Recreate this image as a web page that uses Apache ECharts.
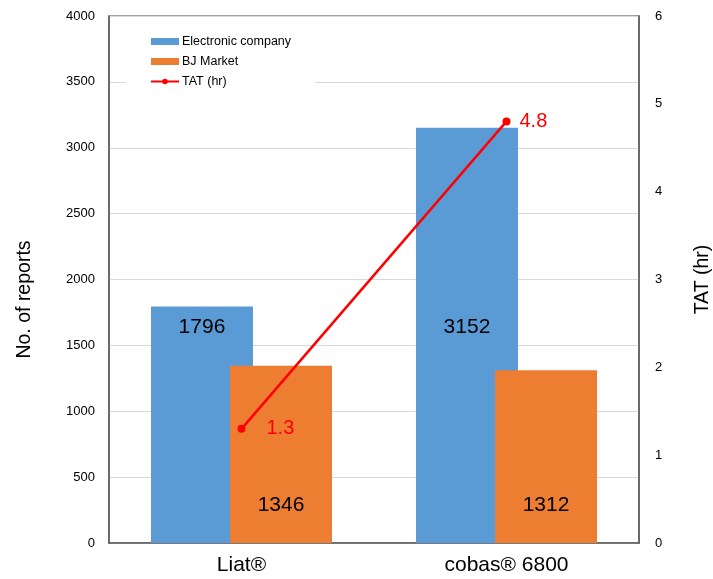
<!DOCTYPE html>
<html lang="en">
<head>
	<meta charset="UTF-8">
	<title>Reports and TAT</title>
	<script src="https://cdn.jsdelivr.net/npm/echarts@6/dist/echarts.min.js"></script>
	<style>
		html,body{margin:0;padding:0;background:#fff;}
		#chart{width:713px;height:579px;}
	</style>
</head>
<body>
<div id="chart"></div>
<script>
	// data
	var categories = ['Liat®', 'cobas® 6800'];
	var electronic = [1796, 3152];
	var bjMarket = [1346, 1312];
	var tat = [1.3, 4.8];

	var FONT = '"Liberation Sans", Arial, sans-serif';

	//bar labels sit at different spots in each bar
	var elecData = [
		{value: electronic[0], label: {position: 'insideTop', distance: 10}},
		{value: electronic[1], label: {position: 'inside', offset: [0, -8]}}
	];
	var tatData = [
		{value: tat[0], label: {distance: 21}},
		{value: tat[1], label: {distance: 9}}
	];

	var myChart = echarts.init(document.getElementById('chart'));
	var option = {
		backgroundColor: '#fff',
		animation: false,
		textStyle: {fontFamily: FONT},
		grid: {
			left: 109, right: 74, top: 16, bottom: 36,
			outerBoundsMode: 'none',
			containLabel: false,
			show: true, borderColor: '#808080', borderWidth: 1.5
		},
		legend: {
			orient: 'vertical',
			left: 126, top: 33,
			itemWidth: 28, itemHeight: 7, itemGap: 7,
			backgroundColor: '#fff',
			padding: [2, 24, 2, 24],
			textStyle: {fontSize: 12.5, color: '#000', fontFamily: FONT, padding: [0, 0, 0, -2]},
			data: [
				{name: 'Electronic company', icon: 'rect'},
				{name: 'BJ Market', icon: 'rect'},
				{name: 'TAT (hr)'}
			]
		},
		xAxis: {
			type: 'category',
			data: categories,
			axisTick: {show: false},
			axisLine: {lineStyle: {color: '#595959', width: 1.5}},
			axisLabel: {fontSize: 21, color: '#000', margin: 12}
		},
		yAxis: [
			{
				type: 'value', min: 0, max: 4000, interval: 500,
				name: 'No. of reports', nameLocation: 'middle', nameGap: 74,
				nameTextStyle: {fontSize: 19.5, color: '#000', padding: [0, 0, 0, -40]},
				axisLine: {show: true, lineStyle: {color: '#595959', width: 1.5}},
				axisTick: {show: false},
				axisLabel: {fontSize: 13, color: '#000', margin: 14, formatter: function(v){ return String(v); }},
				splitLine: {lineStyle: {color: '#d9d9d9', width: 1}}
			},
			{
				type: 'value', min: 0, max: 6, interval: 1,
				name: 'TAT (hr)', nameLocation: 'middle', nameGap: 54,
				nameTextStyle: {fontSize: 19.5, color: '#000'},
				axisLine: {show: true, lineStyle: {color: '#595959', width: 1.5}},
				axisTick: {show: false},
				axisLabel: {fontSize: 13, color: '#000', margin: 16},
				splitLine: {show: false}
			}
		],
		series: [
			{
				name: 'Electronic company',
				type: 'bar',
				barWidth: 102,
				barGap: '-22.5%',
				itemStyle: {color: '#5b9bd5'},
				label: {show: true, fontSize: 21, color: '#000'},
				data: elecData
			},
			{
				name: 'BJ Market',
				type: 'bar',
				barWidth: 102,
				itemStyle: {color: '#ed7d31'},
				label: {show: true, position: 'insideBottom', distance: 27, fontSize: 21, color: '#000'},
				data: bjMarket
			},
			{
				name: 'TAT (hr)',
				type: 'line',
				yAxisIndex: 1,
				symbol: 'circle',
				symbolSize: 8,
				itemStyle: {color: '#ff0000'},
				lineStyle: {color: '#ff0000', width: 2.5},
				label: {show: true, position: 'right', fontSize: 20, color: '#ff0000'},
				data: tatData,
				z: 5
			}
		]
	};
	myChart.setOption(option);
</script>
</body>
</html>
